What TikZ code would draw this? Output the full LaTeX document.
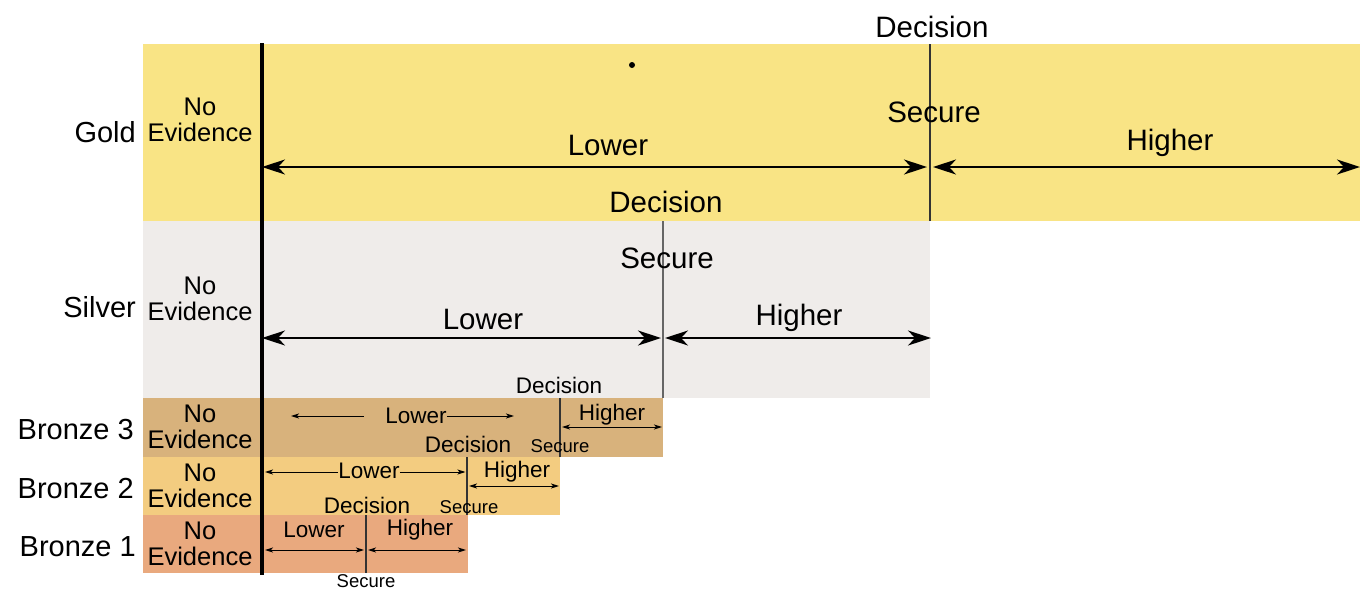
\documentclass[tikz,border=0pt]{standalone}
\usepackage{fontspec}
\setmainfont{Liberation Sans}
\usepackage{xcolor}
\definecolor{bandgold}{RGB}{249,228,133}
\definecolor{bandsilver}{RGB}{239,236,234}
\definecolor{bandbronzeC}{RGB}{216,178,124}
\definecolor{bandbronzeB}{RGB}{243,204,128}
\definecolor{bandbronzeA}{RGB}{233,169,126}
\usetikzlibrary{arrows.meta,positioning}

\begin{document}
\begin{tikzpicture}[x=1pt, y=-1pt,
    tier/.style={anchor=base east, inner sep=0pt, font=\fontsize{29}{30}\selectfont},
    noev/.style={align=center, inner sep=0pt, font=\fontsize{25.5}{26.5}\selectfont},
    biglbl/.style={anchor=base, inner sep=0pt, font=\fontsize{29.5}{30}\selectfont},
    smalllbl/.style={anchor=base, inner sep=0pt, font=\fontsize{22.5}{23}\selectfont},
    tinylbl/.style={anchor=base, inner sep=0pt, font=\fontsize{18.5}{19}\selectfont},
    decline/.style={line width=2.2pt, draw=black!80},
    bigarr/.style={>={Stealth[length=23pt,width=15pt,inset=7pt]}, <->, line width=1.8pt},
    smallarr/.style={>={Stealth[length=8pt,width=5pt,inset=2pt]}, line width=1pt}]
    \useasboundingbox (0,0) rectangle (1360,590);

    % Bands
    \fill[bandgold] (143,44) rectangle (1360,221);
    \fill[bandsilver] (143,221) rectangle (930,398);
    \fill[bandbronzeC] (143,398) rectangle (663,457);
    \fill[bandbronzeB] (143,457) rectangle (560,515);
    \fill[bandbronzeA] (143,515) rectangle (468,573);

    % Decision lines
    \coordinate (gtop) at (930,44);   \coordinate (gbot) at (930,221);
    \coordinate (stop) at (663,221);  \coordinate (sbot) at (663,398);
    \coordinate (b3top) at (560,398); \coordinate (b3bot) at (560,457);
    \coordinate (b2top) at (467,457); \coordinate (b2bot) at (467,515);
    \coordinate (b1top) at (366,515); \coordinate (b1bot) at (366,573);
    \draw[decline] (gtop) -- (gbot);
    \draw[decline, draw=black!60] (stop) -- (sbot);
    \draw[decline] (b3top) -- (b3bot);
    \draw[decline] (b2top) -- (b2bot);
    \draw[decline] (b1top) -- (b1bot);

    % Labels
    \node[tier] (gold) at (136,142) {Gold};
    \node[tier] (silver) at (136,317) {Silver};
    \node[tier] (bronze3) at (134,439) {Bronze 3};
    \node[tier] (bronze2) at (134,498) {Bronze 2};
    \node[tier] (bronze1) at (136,556) {Bronze 1};
    \node[noev] (gnone) at (200,120) {No\\Evidence};
    \node[noev] (snone) at (200,299) {No\\Evidence};
    \node[noev] (b3none) at (200,427) {No\\Evidence};
    \node[noev] (b2none) at (200,486) {No\\Evidence};
    \node[noev] (b1none) at (200,544) {No\\Evidence};

    \node[biglbl] (gdecision) at (932,37) {Decision};
    \node[biglbl] (gsecure) at (934,122) {Secure};
    \node[biglbl] (glower) at (608,155) {Lower};
    \node[biglbl] (ghigher) at (1170,150) {Higher};
    \node[circle, fill, inner sep=0pt, minimum size=6pt] (gdot) at (632,65) {};

    \node[biglbl] (sdecision) at (666,212) {Decision};
    \node[biglbl] (ssecure) at (667,268) {Secure};
    \node[biglbl] (slower) at (483,329) {Lower};
    \node[biglbl] (shigher) at (799,325) {Higher};

    \node[smalllbl] (b3decision) at (559,393) {Decision};
    \node[smalllbl] (b3lower) at (416,423) {Lower};
    \node[smalllbl] (b3higher) at (612,420) {Higher};
    \node[tinylbl] (b3secure) at (560,452) {Secure};

    \node[smalllbl] (b2decision) at (468,452) {Decision};
    \node[smalllbl] (b2lower) at (369,478) {Lower};
    \node[smalllbl] (b2higher) at (517,477) {Higher};
    \node[tinylbl] (b2secure) at (469,513) {Secure};

    \node[smalllbl] (b1decision) at (367,513) {Decision};
    \node[smalllbl] (b1lower) at (314,537) {Lower};
    \node[smalllbl] (b1higher) at (420,535) {Higher};
    \node[tinylbl] (b1secure) at (366,587) {Secure};

    % Arrows
    \coordinate (gl) at (262,167); \coordinate (gd) at (930,167); \coordinate (gr) at (1360,167);
    \draw[bigarr, shorten >=3pt] (gl) -- (gd);
    \draw[bigarr, shorten <=3pt] (gd) -- (gr);
    \coordinate (sl) at (262,338); \coordinate (sd) at (663,338); \coordinate (sr) at (931,338);
    \draw[bigarr, shorten >=2pt] (sl) -- (sd);
    \draw[bigarr, shorten <=2pt] (sd) -- (sr);

    \coordinate (b3l) at (291,416); \coordinate (b3r) at (514,416);
    \coordinate (b3gap) at (364,416);
    \draw[smallarr, ->] (b3gap) -- (b3l);
    \draw[smallarr, ->] (b3lower.east |- b3r) -- (b3r);
    \coordinate (b3d) at (560,427); \coordinate (b3e) at (663,427);
    \draw[smallarr, <->, shorten <=2pt, shorten >=1pt] (b3d) -- (b3e);

    \coordinate (b2l) at (265,472); \coordinate (b2d) at (467,472);
    \draw[smallarr, ->] (b2lower.west |- b2l) -- (b2l);
    \draw[smallarr, ->, shorten >=1.5pt] (b2lower.east |- b2d) -- (b2d);
    \coordinate (b2m) at (467,486); \coordinate (b2e) at (560,486);
    \draw[smallarr, <->, shorten <=2pt, shorten >=1pt] (b2m) -- (b2e);

    \coordinate (b1l) at (265,550); \coordinate (b1d) at (366,550); \coordinate (b1e) at (467,550);
    \draw[smallarr, <->, shorten >=2pt] (b1l) -- (b1d);
    \draw[smallarr, <->, shorten <=2pt, shorten >=1pt] (b1d) -- (b1e);

    % Axis
    \coordinate (axtop) at (262,43); \coordinate (axbot) at (262,575);
    \draw[line width=4.5pt] (axtop) -- (axbot);
\end{tikzpicture}
\end{document}
